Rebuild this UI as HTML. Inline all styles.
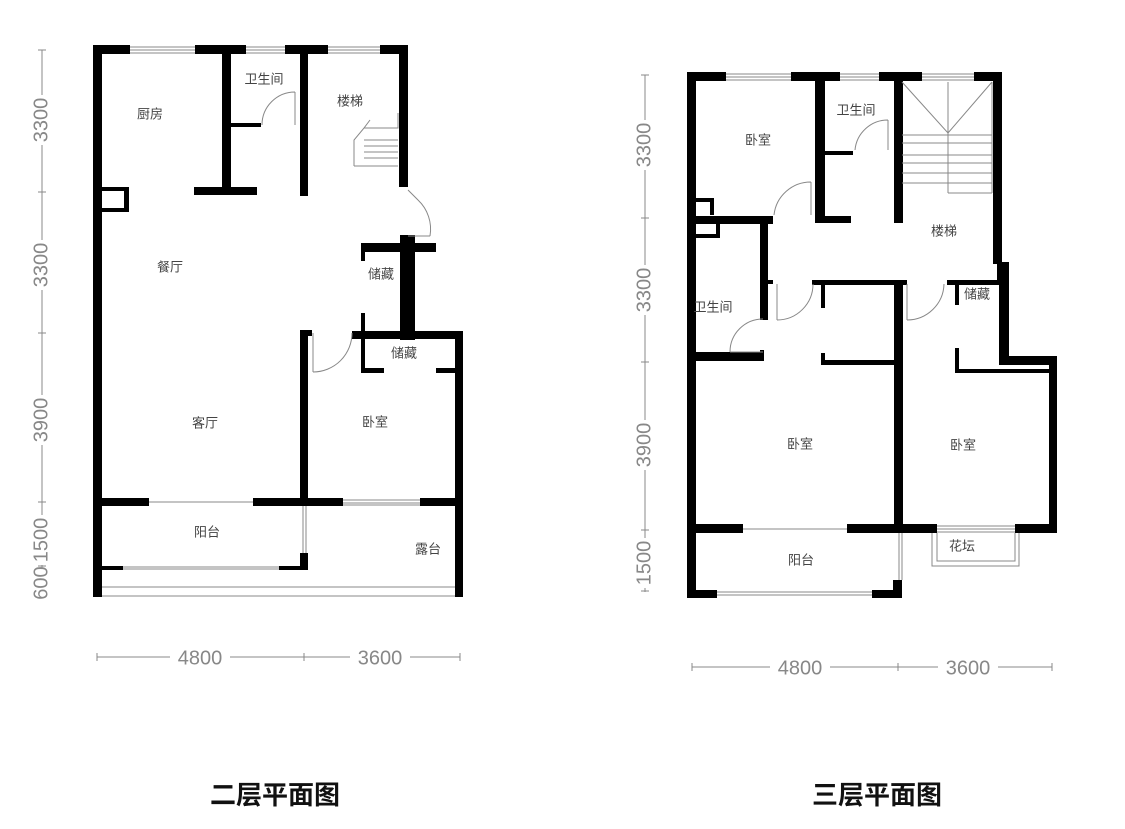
<!DOCTYPE html>
<html><head><meta charset="utf-8"><style>
html,body{margin:0;padding:0;background:#fff;}
svg{display:block;}
.l{font-family:"Liberation Sans","Noto Sans CJK SC",sans-serif;font-size:13px;fill:#444;text-anchor:middle;dominant-baseline:middle;}
.d{font-family:"Liberation Sans",sans-serif;font-size:20px;fill:#888;text-anchor:middle;dominant-baseline:middle;}
.t{font-family:"Liberation Sans","Noto Sans CJK SC",sans-serif;font-size:26px;fill:#111;font-weight:bold;}
</style></head><body>
<svg width="1125" height="829" viewBox="0 0 1125 829" xmlns="http://www.w3.org/2000/svg">
<g fill="#000">
<!-- LEFT PLAN -->
<rect x="93" y="45" width="9" height="552"/>
<rect x="93" y="45" width="37" height="9"/>
<rect x="195" y="45" width="51" height="9"/>
<rect x="285" y="45" width="43" height="9"/>
<rect x="380" y="45" width="28" height="9"/>
<rect x="399" y="45" width="9" height="142"/>
<rect x="222" y="45" width="9" height="150"/>
<rect x="194" y="187" width="63" height="8"/>
<rect x="231" y="123" width="30" height="4"/>
<rect x="300" y="45" width="8" height="151"/>
<rect x="102" y="187" width="27" height="4"/>
<rect x="102" y="208" width="27" height="4"/>
<rect x="124" y="187" width="5" height="25"/>
<rect x="361" y="243" width="75" height="9"/>
<rect x="400" y="235" width="15" height="105"/>
<rect x="361" y="243" width="4" height="18"/>
<rect x="352" y="331" width="111" height="8"/>
<rect x="361" y="313" width="4" height="60"/>
<rect x="361" y="368" width="23" height="5"/>
<rect x="436" y="368" width="24" height="5"/>
<rect x="455" y="331" width="8" height="266"/>
<rect x="300" y="330" width="8" height="176"/>
<rect x="300" y="330" width="12" height="6"/>
<rect x="93" y="498" width="56" height="8"/>
<rect x="253" y="498" width="90" height="8"/>
<rect x="420" y="498" width="43" height="8"/>
<rect x="300" y="553" width="8" height="17"/>
<rect x="102" y="566" width="21" height="4"/>
<rect x="279" y="566" width="29" height="4"/>
<!-- RIGHT PLAN -->
<rect x="687" y="72" width="9" height="526"/>
<rect x="687" y="72" width="39" height="9"/>
<rect x="791" y="72" width="49" height="9"/>
<rect x="879" y="72" width="43" height="9"/>
<rect x="974" y="72" width="28" height="9"/>
<rect x="993" y="72" width="9" height="192"/>
<rect x="997" y="262" width="12" height="21"/>
<rect x="815" y="72" width="10" height="151"/>
<rect x="825" y="151" width="28" height="4"/>
<rect x="815" y="216" width="36" height="7"/>
<rect x="894" y="72" width="9" height="151"/>
<rect x="696" y="198" width="18" height="4"/>
<rect x="710" y="198" width="4" height="17"/>
<rect x="687" y="216" width="86" height="8"/>
<rect x="696" y="234" width="24" height="4"/>
<rect x="716" y="222" width="4" height="16"/>
<rect x="760" y="216" width="8" height="104"/>
<rect x="763" y="280" width="10" height="4"/>
<rect x="812" y="280" width="95" height="5"/>
<rect x="947" y="280" width="60" height="5"/>
<rect x="821" y="282" width="4" height="26"/>
<rect x="894" y="282" width="9" height="251"/>
<rect x="687" y="352" width="77" height="9"/>
<rect x="760" y="350" width="4" height="11"/>
<rect x="821" y="353" width="4" height="12"/>
<rect x="821" y="360" width="77" height="5"/>
<rect x="955" y="284" width="4" height="21"/>
<rect x="955" y="348" width="4" height="25"/>
<rect x="955" y="369" width="95" height="4"/>
<rect x="999" y="280" width="10" height="85"/>
<rect x="999" y="356" width="58" height="9"/>
<rect x="1049" y="356" width="8" height="177"/>
<rect x="687" y="524" width="56" height="9"/>
<rect x="847" y="524" width="90" height="9"/>
<rect x="1015" y="524" width="42" height="9"/>
<rect x="893" y="580" width="9" height="18"/>
<rect x="687" y="590" width="30" height="8"/>
<rect x="872" y="590" width="30" height="8"/>
</g>
<g fill="none" stroke="#888" stroke-width="1">
<!-- left windows -->
<path d="M130 47H195M130 50H195M130 53H195M246 47H285M246 50H285M246 53H285M328 47H380M328 50H380M328 53H380"/>
<path d="M343 500H420M343 503H420M343 505H420"/>
<path d="M123 567H279M123 569H279"/>
<path d="M149 502H253"/>
<path d="M303 506V553M306 506V553"/>
<path d="M102 587H455M102 596H455"/>
<!-- left doors -->
<path d="M295 92V125M262 125A33 33 0 0 1 295 92"/>
<path d="M313 333V372M352 333A39 39 0 0 1 313 372"/>
<path d="M408 190L418 200M408 236H430M418 200A40 40 0 0 1 430 236"/>
<path d="M354 166V140L364 128H398V113M364 140H398M364 146H398M364 152H398M364 158H398M354 166H398M364 128L370 120"/>
<!-- right windows -->
<path d="M726 74H791M726 77H791M726 80H791M840 74H879M840 77H879M840 80H879M922 74H974M922 77H974M922 80H974"/>
<path d="M743 529H847M717 592H872M717 595H872"/>
<path d="M899 533V580M902 533V580"/>
<path d="M937 526H1015M937 529H1015M937 532H1015"/>
<path d="M932 533V566H1019V533M937 533V561H1015V533"/>
<!-- stairs -->
<path d="M902 82L948 133L992 82M948 82V193M992 82V193M902 135H992M902 143H992M902 155H992M902 163H992M902 173H992M902 183H992M948 193H992"/>
<!-- right doors -->
<path d="M888 120V150M855 150A33 33 0 0 1 888 120"/>
<path d="M811 182V215M774 215A37 37 0 0 1 811 182"/>
<path d="M777 284V320M813 284A36 36 0 0 1 777 320"/>
<path d="M730 352H763M730 352A33 33 0 0 1 763 319"/>
<path d="M907 284V320M944 284A37 37 0 0 1 907 320"/>
<!-- dims -->
<path d="M42 50V596M38 192H46M38 333H46M38 502H46M38 566H46M38 50H46"/>
<path d="M97 657H460M304 653V661M97 653V661M460 653V661"/>
<path d="M645 75V592M641 218H649M641 362H649M641 530H649M641 591H649M641 75H649"/>
<path d="M692 667H1052M898 663V671M692 663V671M1052 663V671"/>
</g>
<g class="d">
<rect x="170" y="647" width="60" height="20" fill="#fff"/>
<rect x="350" y="647" width="60" height="20" fill="#fff"/>
<text x="200" y="659">4800</text><text x="380" y="659">3600</text>
<rect x="770" y="657" width="60" height="20" fill="#fff"/>
<rect x="938" y="657" width="60" height="20" fill="#fff"/>
<text x="800" y="669">4800</text><text x="968" y="669">3600</text>
<g transform="translate(42,120) rotate(-90)"><rect x="-25" y="-10" width="50" height="20" fill="#fff"/><text>3300</text></g>
<g transform="translate(42,265) rotate(-90)"><rect x="-25" y="-10" width="50" height="20" fill="#fff"/><text>3300</text></g>
<g transform="translate(42,420) rotate(-90)"><rect x="-25" y="-10" width="50" height="20" fill="#fff"/><text>3900</text></g>
<g transform="translate(42,540) rotate(-90)"><rect x="-25" y="-10" width="50" height="20" fill="#fff"/><text>1500</text></g>
<g transform="translate(42,583) rotate(-90)"><rect x="-15" y="-10" width="30" height="20" fill="#fff"/><text>600</text></g>
<g transform="translate(645,145) rotate(-90)"><rect x="-25" y="-10" width="50" height="20" fill="#fff"/><text>3300</text></g>
<g transform="translate(645,290) rotate(-90)"><rect x="-25" y="-10" width="50" height="20" fill="#fff"/><text>3300</text></g>
<g transform="translate(645,445) rotate(-90)"><rect x="-25" y="-10" width="50" height="20" fill="#fff"/><text>3900</text></g>
<g transform="translate(645,563) rotate(-90)"><rect x="-25" y="-10" width="50" height="20" fill="#fff"/><text>1500</text></g>
</g>
<g class="l">
<text x="150" y="115">厨房</text><text x="264" y="80">卫生间</text><text x="350" y="102">楼梯</text>
<text x="170" y="268">餐厅</text><text x="381" y="275">储藏</text><text x="404" y="354">储藏</text>
<text x="205" y="424">客厅</text><text x="375" y="423">卧室</text><text x="207" y="533">阳台</text><text x="428" y="550">露台</text>
<text x="758" y="141">卧室</text><text x="856" y="111">卫生间</text><text x="944" y="232">楼梯</text>
<text x="713" y="308">卫生间</text><text x="977" y="295">储藏</text><text x="800" y="445">卧室</text>
<text x="963" y="446">卧室</text><text x="801" y="561">阳台</text><text x="962" y="547">花坛</text>
</g>
<text class="t" x="210" y="804">二层平面图</text>
<text class="t" x="812" y="804">三层平面图</text>
</svg>
</body></html>
